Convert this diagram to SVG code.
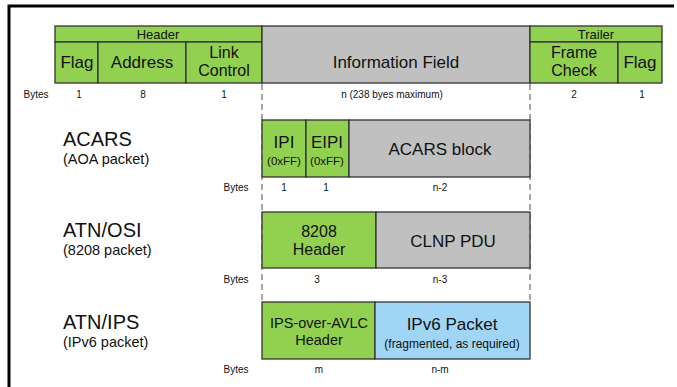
<svg xmlns="http://www.w3.org/2000/svg" width="677" height="387" viewBox="0 0 677 387">
<style>
text{font-family:"Liberation Sans",Arial,sans-serif;fill:#111;text-anchor:middle}
.g{fill:#92D050;stroke:#333;stroke-width:1.3}
.y{fill:#C0C0C0;stroke:#333;stroke-width:1.3}
.b{fill:#A0D5F5;stroke:#333;stroke-width:1.3}
.big{font-size:17px}
.two{font-size:16px}
.sm{font-size:13px}
.xs{font-size:10px}
.lab{font-size:20px;text-anchor:start}
.sub{font-size:14.5px;text-anchor:start}
.dash{stroke:#8a8a8a;stroke-width:1.5;stroke-dasharray:6 4;fill:none}
</style>
<rect x="0" y="0" width="677" height="387" fill="#fff"/>
<path d="M9,387 V6 H674" fill="none" stroke="#000" stroke-width="3"/>
<g id="connectors">
<line class="dash" x1="262" y1="84" x2="262" y2="302"/>
<line class="dash" x1="530" y1="84" x2="530" y2="302"/>
</g>
<g id="frame">
<rect class="g" x="55" y="26" width="207" height="16"/>
<text class="sm" x="158" y="39">Header</text>
<rect class="g" x="55" y="42" width="43" height="41"/>
<text class="big" x="77" y="68">Flag</text>
<rect class="g" x="98" y="42" width="88" height="41"/>
<text class="big" x="142" y="68">Address</text>
<rect class="g" x="186" y="42" width="76" height="41"/>
<text class="two" x="224" y="58">Link</text>
<text class="two" x="224" y="76">Control</text>
<rect class="y" x="262" y="26" width="268" height="57"/>
<text class="big" x="396" y="68">Information  Field</text>
<rect class="g" x="530" y="26" width="132" height="16"/>
<text class="sm" x="596" y="39">Trailer</text>
<rect class="g" x="530" y="42" width="88" height="41"/>
<text class="two" x="574" y="58">Frame</text>
<text class="two" x="574" y="76">Check</text>
<rect class="g" x="618" y="42" width="44" height="41"/>
<text class="big" x="640" y="68">Flag</text>
<text class="xs" x="36" y="98">Bytes</text>
<text class="xs" x="79" y="98">1</text>
<text class="xs" x="143" y="98">8</text>
<text class="xs" x="224" y="98">1</text>
<text class="xs" x="392" y="98">n (238 byes maximum)</text>
<text class="xs" x="574" y="98">2</text>
<text class="xs" x="642" y="98">1</text>
</g>
<g id="acars">
<text class="lab" x="63" y="146">ACARS</text>
<text class="sub" x="63" y="164">(AOA packet)</text>
<rect class="g" x="262" y="120" width="44" height="57"/>
<text class="big" x="284" y="148">IPI</text>
<text style="font-size:11.5px" x="284" y="165">(0xFF)</text>
<rect class="g" x="306" y="120" width="43" height="57"/>
<text class="big" x="327" y="148">EIPI</text>
<text style="font-size:11.5px" x="327" y="165">(0xFF)</text>
<rect class="y" x="349" y="120" width="181" height="57"/>
<text class="big" x="440" y="155">ACARS block</text>
<text class="xs" x="236" y="191">Bytes</text>
<text class="xs" x="284" y="191">1</text>
<text class="xs" x="326" y="191">1</text>
<text class="xs" x="440" y="191">n-2</text>
</g>
<g id="atnosi">
<text class="lab" x="63" y="237">ATN/OSI</text>
<text class="sub" x="63" y="255">(8208 packet)</text>
<rect class="g" x="262" y="212" width="114" height="56"/>
<text class="two" x="319" y="237">8208</text>
<text class="two" x="319" y="255">Header</text>
<rect class="y" x="376" y="212" width="154" height="56"/>
<text class="big" x="453" y="247">CLNP PDU</text>
<text class="xs" x="236" y="283">Bytes</text>
<text class="xs" x="317" y="283">3</text>
<text class="xs" x="440" y="283">n-3</text>
</g>
<g id="atnips">
<text class="lab" x="63" y="329">ATN/IPS</text>
<text class="sub" x="63" y="347">(IPv6 packet)</text>
<rect class="g" x="262" y="302" width="113" height="57"/>
<text style="font-size:14.5px" x="319" y="328">IPS-over-AVLC</text>
<text style="font-size:14.5px" x="319" y="345">Header</text>
<rect class="b" x="375" y="302" width="155" height="57"/>
<text class="big" x="452" y="330">IPv6  Packet</text>
<text style="font-size:12px" x="452" y="348">(fragmented, as required)</text>
<text class="xs" x="236" y="373">Bytes</text>
<text class="xs" x="319" y="373">m</text>
<text class="xs" x="440" y="373">n-m</text>
</g>
</svg>
